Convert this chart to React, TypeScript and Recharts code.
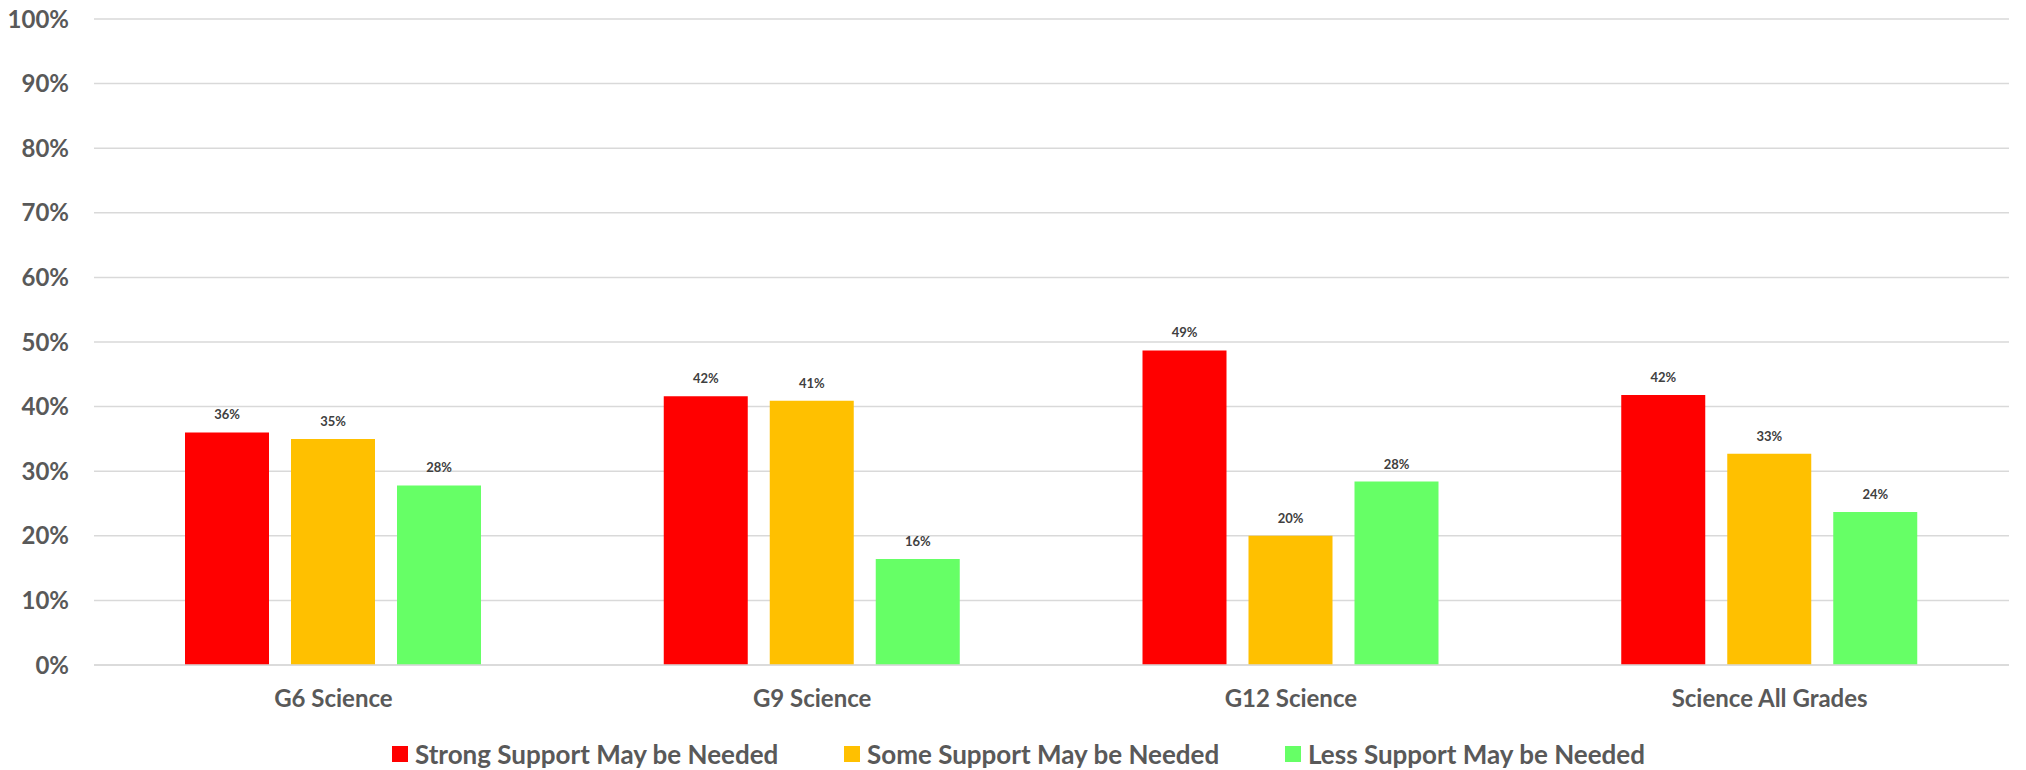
import { BarChart, Bar, XAxis, YAxis, CartesianGrid, LabelList } from 'recharts'

const categories = ['G6 Science', 'G9 Science', 'G12 Science', 'Science All Grades']
const strongSupport = [0.36, 0.416, 0.487, 0.418]
const someSupport = [0.35, 0.409, 0.2, 0.327]
const lessSupport = [0.278, 0.164, 0.284, 0.237]
const yTicks = [0, 0.1, 0.2, 0.3, 0.4, 0.5, 0.6, 0.7, 0.8, 0.9, 1]

const series = [
  { key: 'strong', name: 'Strong Support May be Needed', color: '#FF0000' },
  { key: 'some', name: 'Some Support May be Needed', color: '#FFC000' },
  { key: 'less', name: 'Less Support May be Needed', color: '#66FF66' },
]

const data = categories.map((name, i) => ({
  name,
  strong: strongSupport[i],
  some: someSupport[i],
  less: lessSupport[i],
}))

const FONT = 'Lato, "Open Sans", sans-serif'
const pct = (v: any) => `${Math.round(Number(v) * 100)}%`

// category labels under the bars
function CategoryTick(props: any) {
  const { x, y, payload } = props
  return (
    <text x={x} y={y} dy={17} textAnchor="middle" fill="#595959" fontSize={24} fontWeight={700} fontFamily={FONT}>
      {payload.value}
    </text>
  )
}

export default function App() {
  return (
    <div style={{ position: 'absolute', left: 0, top: 0, width: 2026, height: 770, background: 'white', fontFamily: FONT }}>
      <BarChart
        width={2026}
        height={770}
        data={data}
        margin={{ top: 19, right: 17, left: 0, bottom: 0 }}
        barSize={84}
        barGap={22}
      >
        <CartesianGrid vertical={false} stroke="#d9d9d9" strokeWidth={1.5} />
        <XAxis
          dataKey="name"
          height={105}
          tickLine={false}
          tickSize={0}
          tickMargin={25}
          axisLine={{ stroke: '#d9d9d9', strokeWidth: 1.5 }}
          tick={<CategoryTick />}
        />
        <YAxis
          width={94}
          domain={[0, 1]}
          ticks={yTicks}
          tickFormatter={pct}
          axisLine={false}
          tickLine={false}
          tickSize={0}
          tickMargin={25}
          tick={{ fill: '#595959', fontSize: 24, fontWeight: 700, fontFamily: FONT }}
        />
        {series.map((s) => (
          <Bar key={s.key} dataKey={s.key} name={s.name} fill={s.color} isAnimationActive={false}>
            <LabelList
              dataKey={s.key}
              position="top"
              offset={13}
              formatter={pct}
              style={{ fill: '#404040', fontSize: 13, fontWeight: 700, fontFamily: FONT }}
            />
          </Bar>
        ))}
      </BarChart>
      <div style={{ position: 'absolute', left: 392, top: 738, display: 'flex', alignItems: 'center' }}>
        {series.map((s, i) => (
          <div key={s.key} style={{ display: 'flex', alignItems: 'center', width: i === 0 ? 452 : i === 1 ? 441 : 'auto' }}>
            <div style={{ width: 16, height: 16, background: s.color, marginRight: 7 }} />
            <span style={{ color: '#595959', fontSize: 26, fontWeight: 700, whiteSpace: 'nowrap', lineHeight: '32px' }}>{s.name}</span>
          </div>
        ))}
      </div>
    </div>
  )
}
